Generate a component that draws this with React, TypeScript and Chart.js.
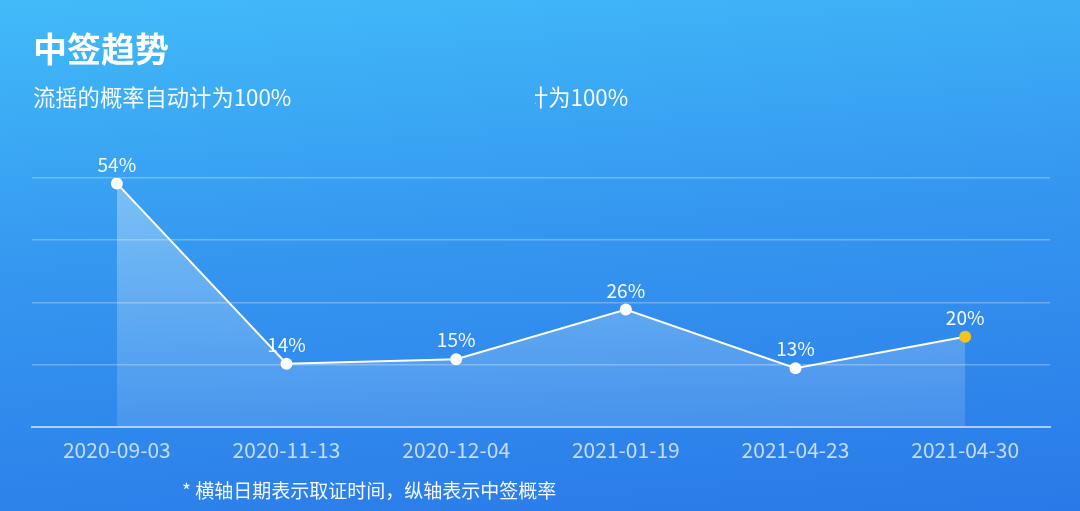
import React, { useRef, useEffect } from "react";
import { Chart, registerables } from "chart.js";

Chart.register(...registerables);

const dates = ["2020-09-03", "2020-11-13", "2020-12-04", "2021-01-19", "2021-04-23", "2021-04-30"];
const winRates = [54, 14, 15, 26, 13, 20];
const pointColors = ["#ffffff", "#ffffff", "#ffffff", "#ffffff", "#ffffff", "#f6c21c"];
const yMax = 55.2;
const yStep = 13.8;

const FONT = '"Noto Sans CJK SC", "Noto Sans", sans-serif';

// draws "54%" etc. above each point
const valueLabels = {
  id: "valueLabels",
  afterDatasetsDraw(chart: any) {
    const ctx = chart.ctx;
    const meta = chart.getDatasetMeta(0);
    ctx.save();
    ctx.font = `19px ${FONT}`;
    ctx.fillStyle = "rgba(255,255,255,0.95)";
    ctx.textAlign = "center";
    ctx.textBaseline = "middle";
    meta.data.forEach((pt: any, i: number) => {
      ctx.fillText(`${winRates[i]}%`, pt.x, pt.y - 19);
    });
    ctx.restore();
  },
};

const TrendChart: React.FC = () => {
  const canvasRef = useRef<HTMLCanvasElement | null>(null);

  useEffect(() => {
    if (!canvasRef.current) return;
    const chart = new Chart(canvasRef.current, {
      type: "line",
      data: {
        labels: dates,
        datasets: [
          {
            data: winRates,
            borderColor: "#ffffff",
            borderWidth: 2,
            tension: 0,
            fill: "origin",
            backgroundColor: (c: any) => {
              const area = c.chart.chartArea;
              if (!area) return "rgba(255,255,255,0.2)";
              const g = c.chart.ctx.createLinearGradient(0, area.top, 0, area.bottom);
              g.addColorStop(0, "rgba(255,255,255,0.34)");
              g.addColorStop(1, "rgba(255,255,255,0.12)");
              return g;
            },
            pointRadius: 6,
            pointHoverRadius: 6,
            pointBorderWidth: 0,
            pointBackgroundColor: pointColors,
            pointBorderColor: pointColors,
          },
        ],
      },
      options: {
        animation: false,
        responsive: false,
        layout: { padding: { left: 32, right: 30, top: 178, bottom: 45 } },
        plugins: { legend: { display: false }, tooltip: { enabled: false } },
        scales: {
          x: {
            offset: true,
            grid: { display: false },
            border: { display: true, color: "rgba(255,255,255,0.6)", width: 2 },
            ticks: {
              color: "rgba(255,255,255,0.72)",
              font: { family: FONT, size: 21 },
              padding: 3,
              maxRotation: 0,
            },
          },
          y: {
            min: 0,
            max: yMax,
            border: { display: false },
            grid: {
              drawTicks: false,
              lineWidth: 1.5,
              color: (c: any) => (c.tick.value === 0 ? "rgba(0,0,0,0)" : "rgba(255,255,255,0.28)"),
            },
            ticks: { display: false, stepSize: yStep },
          },
        },
      },
      plugins: [valueLabels],
    });
    return () => chart.destroy();
  }, []);

  return <canvas ref={canvasRef} width={1080} height={511} style={{ position: "absolute", left: 0, top: 0 }} />;
};

export default function App() {
  return (
    <div
      style={{
        position: "fixed",
        left: 0,
        top: 0,
        width: 1080,
        height: 511,
        overflow: "hidden",
        background: "linear-gradient(175deg, #42bbf9 0%, #3597f0 45%, #2a79e8 100%)",
        fontFamily: FONT,
        color: "#ffffff",
      }}
    >
      <TrendChart />
      <div style={{ position: "absolute", left: 33, top: 26, fontSize: 34, fontWeight: 700, lineHeight: "44px" }}>
        中签趋势
      </div>
      <div style={{ position: "absolute", left: 33, top: 81, fontSize: 22.3, lineHeight: "30px", opacity: 0.95 }}>
        流摇的概率自动计为100%
      </div>
      <div
        style={{
          position: "absolute",
          left: 535,
          top: 81,
          width: 110,
          overflow: "hidden",
          fontSize: 22.3,
          lineHeight: "30px",
          opacity: 0.95,
          whiteSpace: "nowrap",
        }}
      >
        <span style={{ marginLeft: -9 }}>计为100%</span>
      </div>
      <div style={{ position: "absolute", left: 182, top: 477, fontSize: 19, lineHeight: "26px", opacity: 0.95 }}>
        * 横轴日期表示取证时间，纵轴表示中签概率
      </div>
    </div>
  );
}
